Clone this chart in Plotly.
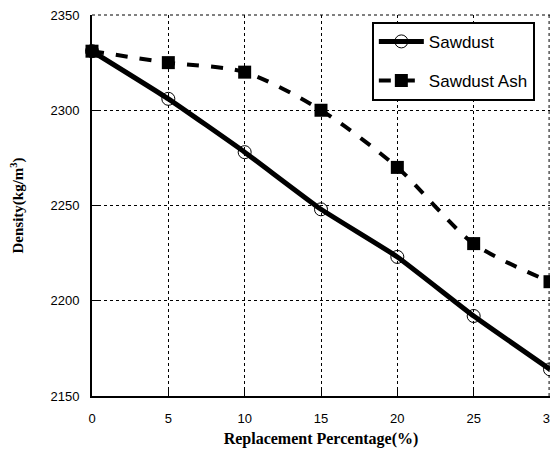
import plotly.graph_objects as go

replacement = [0, 5, 10, 15, 20, 25, 30]
sawdust = [2331, 2306, 2278, 2248, 2223, 2192, 2164]
sawdust_ash = [2331, 2325, 2320, 2300, 2270, 2230, 2210]
x_ticks = [0, 5, 10, 15, 20, 25, 30]
y_ticks = [2150, 2200, 2250, 2300, 2350]

fig = go.Figure()
fig.add_trace(go.Scatter(
    x=replacement, y=sawdust, name="Sawdust", mode="lines+markers",
    line=dict(color="black", width=5, shape="spline", smoothing=0.35),
    marker=dict(symbol="circle-open", size=13, color="black", line=dict(width=1)),
    legendgroup="a", cliponaxis=False,
))
fig.add_trace(go.Scatter(
    x=replacement, y=sawdust_ash, name="Sawdust Ash", mode="lines+markers",
    line=dict(color="black", width=4, dash="dash", shape="spline", smoothing=0.8),
    marker=dict(symbol="square", size=13, color="black"),
    legendgroup="b", cliponaxis=False,
))

axis_common = dict(
    showgrid=True, gridcolor="black", gridwidth=1, griddash="dot",
    showline=True, linecolor="black", linewidth=2,
    ticks="inside", ticklen=6, tickcolor="black",
    tickfont=dict(family="Liberation Sans, Arial", size=13, color="black"),
    ticklabeloverflow="allow",
    zeroline=False,
)
fig.update_xaxes(range=[0, 30], tickvals=x_ticks, ticklabelstandoff=9, **axis_common,
                 title=dict(text="<b>Replacement Percentage(%)</b>",
                            font=dict(family="Liberation Serif, Times New Roman", size=16, color="black"),
                            standoff=16))
fig.update_yaxes(range=[2150, 2350], tickvals=y_ticks, ticklabelstandoff=8, **axis_common,
                 title=dict(text="<b>Density(kg/m<sup>3</sup>)</b>",
                            font=dict(family="Liberation Serif, Times New Roman", size=15, color="black"),
                            standoff=24))

# dotted border on top and right (grid lines at the range ends)
fig.add_shape(type="line", xref="paper", yref="paper", x0=0, x1=1, y0=1, y1=1,
              line=dict(color="black", width=1, dash="dot"), layer="below")
fig.add_shape(type="line", xref="paper", yref="paper", x0=0.998, x1=0.998, y0=0, y1=1,
              line=dict(color="black", width=1, dash="dot"), layer="below")

fig.update_layout(
    width=542, height=440,
    margin=dict(l=84, r=0, t=7, b=52, autoexpand=False),
    paper_bgcolor="white", plot_bgcolor="white",
    showlegend=True,
    legend=dict(x=0.611, y=0.982, xanchor="left", yanchor="top",
                bgcolor="white", bordercolor="black", borderwidth=2,
                font=dict(family="Liberation Sans, Arial", size=17, color="black"),
                itemwidth=45,
                traceorder="grouped", tracegroupgap=14),
)
fig.write_html("out.html")
